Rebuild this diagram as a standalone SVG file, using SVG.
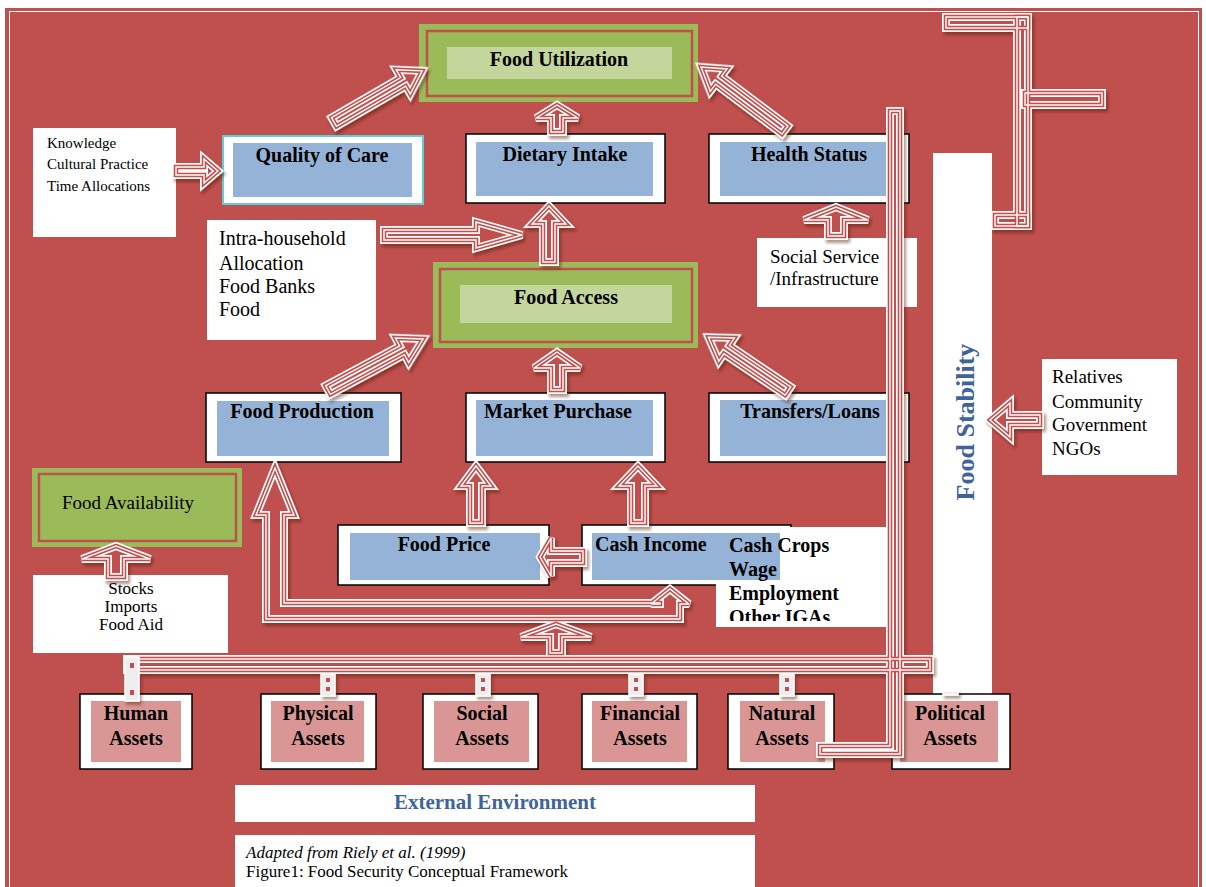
<svg xmlns="http://www.w3.org/2000/svg" xmlns:xlink="http://www.w3.org/1999/xlink" width="1206" height="887" viewBox="0 0 1206 887">
<defs>
<style>
.t{font-family:"Liberation Serif","Times New Roman",serif;fill:#000}
.b{font-weight:bold;font-size:20px}
.r19{font-size:19px}
.m{text-anchor:middle}
.box{fill:#fff;stroke:#000;stroke-width:1.5}
.blue{fill:#95B3D7}
.pink{fill:#D99694}
.wt{fill:#fff}
.g1{fill:#9BBB59}
.g2{fill:none;stroke:#C0504D;stroke-width:2.5}
.g3{fill:#C3D69B}
.navy{fill:#3F649B}
#connectors{fill:#C0504D;stroke:#fff;stroke-width:8;stroke-linejoin:miter;stroke-miterlimit:3}
.cm{fill:none;stroke:#C0504D;stroke-width:4.6}
.ci{fill:none;stroke:#fff;stroke-width:1.4}
.stub{fill:#eeeeee;stroke:#fff;stroke-width:1.5}
.dot{fill:#C0504D;stroke:none}
</style>
<filter id="sh" x="-10%" y="-10%" width="130%" height="130%">
<feDropShadow dx="2" dy="3" stdDeviation="1.5" flood-color="#4a1210" flood-opacity="0.45"/>
</filter>
<clipPath id="ccClip"><rect x="716" y="525" width="176" height="96"/></clipPath>
</defs>

<rect x="0" y="0" width="1206" height="887" fill="#fff"/>
<rect x="5" y="8" width="1197" height="879" fill="#C0504D"/>
<rect x="9.5" y="11.5" width="1189" height="880" fill="none" stroke="#fff" stroke-width="1"/>

<g id="knowledge">
<rect x="33" y="128" width="143" height="109" class="wt"/>
<text class="t" font-size="15" x="47" y="148">Knowledge</text>
<text class="t" font-size="15" x="47" y="169">Cultural Practice</text>
<text class="t" font-size="15" x="47" y="191">Time Allocations</text>
</g>

<g id="quality-of-care">
<rect x="223" y="136" width="200" height="68" fill="#fff" stroke="#5CCFDC" stroke-width="2"/>
<rect x="233" y="143" width="179" height="54" class="blue"/>
<text class="t b m" x="322" y="162">Quality of Care</text>
</g>

<g id="food-utilization">
<rect x="419" y="24" width="279" height="78" class="g1"/>
<rect x="427" y="31" width="265" height="65" class="g2"/>
<rect x="447" y="47" width="225" height="32" class="g3"/>
<text class="t b m" x="559" y="66">Food Utilization</text>
</g>

<g id="dietary-intake">
<rect x="466" y="134" width="199" height="69" class="box"/>
<rect x="476" y="142" width="177" height="54" class="blue"/>
<text class="t b m" x="565" y="161">Dietary Intake</text>
</g>

<g id="health-status">
<rect x="709" y="134" width="200" height="69" class="box"/>
<rect x="720" y="142" width="178" height="54" class="blue"/>
<text class="t b m" x="809" y="161">Health Status</text>
</g>

<g id="intra-household">
<rect x="207" y="220" width="169" height="120" class="wt"/>
<text class="t" font-size="20" x="219" y="245">Intra-household</text>
<text class="t" font-size="20" x="219" y="270">Allocation</text>
<text class="t" font-size="20" x="219" y="293">Food Banks</text>
<text class="t" font-size="20" x="219" y="316">Food</text>
</g>

<g id="food-access">
<rect x="433" y="262" width="265" height="86" class="g1"/>
<rect x="440" y="269" width="252" height="73" class="g2"/>
<rect x="460" y="285" width="212" height="38" class="g3"/>
<text class="t b m" x="566" y="304">Food Access</text>
</g>

<g id="social-service">
<rect x="757" y="238" width="160" height="69" class="wt"/>
<text class="t r19" x="770" y="263">Social Service</text>
<text class="t r19" x="770" y="285">/Infrastructure</text>
</g>

<g id="food-production">
<rect x="206" y="393" width="195" height="69" class="box"/>
<rect x="217" y="401" width="172" height="55" class="blue"/>
<text class="t b m" x="302" y="418">Food Production</text>
</g>

<g id="market-purchase">
<rect x="466" y="393" width="199" height="69" class="box"/>
<rect x="476" y="400" width="177" height="56" class="blue"/>
<text class="t b m" x="558" y="418">Market Purchase</text>
</g>

<g id="transfers-loans">
<rect x="709" y="393" width="200" height="69" class="box"/>
<rect x="720" y="400" width="178" height="56" class="blue"/>
<text class="t b m" x="810" y="418">Transfers/Loans</text>
</g>

<g id="relatives">
<rect x="1042" y="359" width="135" height="116" class="wt"/>
<text class="t r19" x="1052" y="383">Relatives</text>
<text class="t r19" x="1052" y="408">Community</text>
<text class="t r19" x="1052" y="431">Government</text>
<text class="t r19" x="1052" y="455">NGOs</text>
</g>

<g id="food-availability">
<rect x="32" y="468" width="210" height="79" class="g1"/>
<rect x="39" y="474" width="197" height="67" class="g2"/>
<text class="t r19" x="62" y="509">Food Availability</text>
</g>

<g id="stocks">
<rect x="33" y="575" width="195" height="78" class="wt"/>
<text class="t m" font-size="17" x="131" y="594">Stocks</text>
<text class="t m" font-size="17" x="131" y="612">Imports</text>
<text class="t m" font-size="17" x="131" y="630">Food Aid</text>
</g>

<g id="food-price">
<rect x="338" y="525" width="211" height="60" class="box"/>
<rect x="350" y="533" width="190" height="47" class="blue"/>
<text class="t b m" x="444" y="551">Food Price</text>
</g>

<g id="cash-income">
<rect x="582" y="525" width="209" height="60" class="box"/>
<rect x="716" y="527" width="175" height="100" class="wt"/>
<rect x="592" y="533" width="188" height="47" class="blue"/>
<text class="t b" x="595" y="551">Cash Income</text>
<g clip-path="url(#ccClip)">
<text class="t b" x="729" y="552">Cash Crops</text>
<text class="t b" x="729" y="576">Wage</text>
<text class="t b" x="729" y="600">Employment</text>
<text class="t b" x="729" y="624">Other IGAs</text>
</g>
</g>

<g id="food-stability">
<rect x="933" y="153" width="59" height="541" class="wt"/>
<text class="t navy m" font-weight="bold" font-size="26" transform="translate(974,422) rotate(-90)">Food Stability</text>
</g>

<g id="human-assets">
<rect x="80" y="694" width="112" height="75" class="box"/>
<rect x="91" y="701" width="90" height="61" class="pink"/>
<text class="t b m" x="136" y="720">Human</text>
<text class="t b m" x="136" y="745">Assets</text>
</g>
<g id="physical-assets">
<rect x="261" y="694" width="115" height="75" class="box"/>
<rect x="271" y="701" width="93" height="61" class="pink"/>
<text class="t b m" x="318" y="720">Physical</text>
<text class="t b m" x="318" y="745">Assets</text>
</g>
<g id="social-assets">
<rect x="423" y="694" width="115" height="75" class="box"/>
<rect x="434" y="701" width="95" height="61" class="pink"/>
<text class="t b m" x="482" y="720">Social</text>
<text class="t b m" x="482" y="745">Assets</text>
</g>
<g id="financial-assets">
<rect x="582" y="694" width="115" height="75" class="box"/>
<rect x="592" y="701" width="95" height="61" class="pink"/>
<text class="t b m" x="640" y="720">Financial</text>
<text class="t b m" x="640" y="745">Assets</text>
</g>
<g id="natural-assets">
<rect x="728" y="694" width="106" height="75" class="box"/>
<rect x="740" y="701" width="85" height="61" class="pink"/>
<text class="t b m" x="782" y="720">Natural</text>
<text class="t b m" x="782" y="745">Assets</text>
</g>
<g id="political-assets">
<rect x="892" y="694" width="118" height="75" class="box"/>
<rect x="900" y="701" width="98" height="61" class="pink"/>
<text class="t b m" x="950" y="720">Political</text>
<text class="t b m" x="950" y="745">Assets</text>
</g>

<g id="connectors" filter="url(#sh)">
<g id="shapes">
<path transform="translate(176,171)" d="M0,-4H28V-12L42,0L28,12V4H0Z"/>
<path transform="translate(334,122) rotate(-30.1)" d="M0,-5H80V-14L102,0L80,14V5H0Z"/>
<path transform="translate(557,132) rotate(-90)" d="M0,-6H14V-21L27,0L14,21V6H0Z"/>
<path transform="translate(785,130) rotate(-143.1)" d="M0,-5H83V-14L105,0L83,14V5H0Z"/>
<path transform="translate(384,235)" d="M0,-5H92V-13L138,0L92,13V5H0Z"/>
<path transform="translate(549,262) rotate(-90)" d="M0,-6H38V-17L56,0L38,17V6H0Z"/>
<path transform="translate(557,390) rotate(-90)" d="M0,-6H22V-23L38,0L22,23V6H0Z"/>
<path transform="translate(328,390) rotate(-28.2)" d="M0,-5H84V-14L108,0L84,14V5H0Z"/>
<path transform="translate(788,391) rotate(-146)" d="M0,-5H74V-14L96,0L74,14V5H0Z"/>
<path transform="translate(836,236) rotate(-90)" d="M0,-8H16V-32L29,0L16,32V8H0Z"/>
<path transform="translate(1040,420) rotate(180)" d="M0,-5H30V-17L50,0L30,17V5H0Z"/>
<path transform="translate(476,523) rotate(-90)" d="M0,-6H37V-15L57,0L37,15V6H0Z"/>
<path transform="translate(638,523) rotate(-90)" d="M0,-7H37V-19L57,0L37,19V7H0Z"/>
<path transform="translate(116,577) rotate(-90)" d="M0,-8H18V-34L31,0L18,34V8H0Z"/>
<path transform="translate(556,653) rotate(-90)" d="M0,-6H16V-35L29,0L16,35V6H0Z"/>
<path transform="translate(583,557) rotate(180)" d="M0,-6H32V-19L43,0L32,19V6H0Z"/>
<path d="M275,468L294,515H284V603H660V604H651L670,589L689,604H680V619H266V515H256Z"/>
<rect x="127" y="659" width="803" height="11"/>
<path d="M890,111H900V754H820V746H890Z"/>
<rect x="946" y="17" width="82" height="11"/>
<rect x="1017" y="17" width="11" height="209"/>
<rect x="1025" y="93" width="77" height="12"/>
<rect x="995" y="215" width="33" height="11"/>
</g>
<use xlink:href="#shapes" href="#shapes" class="cm"/>
<use xlink:href="#shapes" href="#shapes" class="ci"/>
<g id="stubs">
<rect x="125" y="657" width="14" height="44" class="stub"/>
<rect x="130" y="663" width="4" height="5" class="dot"/>
<rect x="130" y="690" width="4" height="5" class="dot"/>
<rect x="321" y="674" width="14" height="22" class="stub"/>
<rect x="326" y="678" width="4" height="4" class="dot"/>
<rect x="326" y="687" width="4" height="4" class="dot"/>
<rect x="476" y="674" width="14" height="22" class="stub"/>
<rect x="481" y="678" width="4" height="4" class="dot"/>
<rect x="481" y="687" width="4" height="4" class="dot"/>
<rect x="629" y="674" width="14" height="22" class="stub"/>
<rect x="634" y="678" width="4" height="4" class="dot"/>
<rect x="634" y="687" width="4" height="4" class="dot"/>
<rect x="780" y="674" width="14" height="22" class="stub"/>
<rect x="785" y="678" width="4" height="4" class="dot"/>
<rect x="785" y="687" width="4" height="4" class="dot"/>
<rect x="943" y="691" width="15" height="4" class="stub"/>
</g>
</g>

<g id="external-environment">
<rect x="235" y="785" width="520" height="37" class="wt"/>
<text class="t navy m" font-weight="bold" font-size="21" x="495" y="809">External Environment</text>
</g>

<g id="caption">
<rect x="235" y="835" width="520" height="52" class="wt"/>
<text class="t" font-size="17" font-style="italic" x="246" y="858">Adapted from Riely et al. (1999)</text>
<text class="t" font-size="17" x="246" y="877">Figure1: Food Security Conceptual Framework</text>
</g>
</svg>
